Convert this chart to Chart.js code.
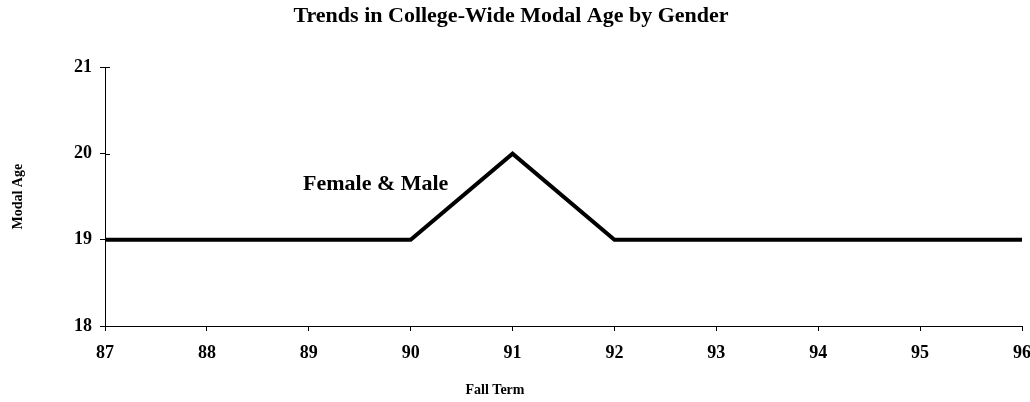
<!DOCTYPE html>
<html>
<head>
<meta charset="utf-8">
<script src="https://cdn.jsdelivr.net/npm/chart.js@4.4.1/dist/chart.umd.min.js"></script>
<style>
  html, body { margin: 0; padding: 0; background: #fff; }
  #wrap { position: relative; width: 1030px; height: 402px; }
</style>
</head>
<body>
<div id="wrap"><canvas id="chart"></canvas></div>
<script>
// fall terms on the x axis and the modal age for each
const terms = ["87", "88", "89", "90", "91", "92", "93", "94", "95", "96"];
const modalAge = [19, 19, 19, 19, 20, 19, 19, 19, 19, 19];
const ageTicks = [18, 19, 20, 21];

const serif = "'Liberation Serif', 'Times New Roman', serif";

// series label + crossing ticks on y axis + x title
const extras = {
  id: "extras",
  afterDraw(chart) {
    const ctx = chart.ctx;
    const y = chart.scales.y;
    const left = chart.chartArea.left;
    ctx.save();
    ctx.strokeStyle = "#000";
    ctx.lineWidth = 1;
    ageTicks.forEach(v => {
      const py = Math.round(y.getPixelForValue(v)) + 0.5;
      ctx.beginPath();
      ctx.moveTo(left, py);
      ctx.lineTo(left + 5, py);
      ctx.stroke();
    });
    ctx.fillStyle = "#000";
    ctx.font = "bold 22px " + serif;
    ctx.textAlign = "left";
    ctx.textBaseline = "middle";
    ctx.fillText("Female & Male", 303, 184);
    ctx.font = "bold 14px " + serif;
    ctx.textAlign = "center";
    ctx.fillText("Fall Term", 495, 390);
    ctx.restore();
  }
};

new Chart(document.getElementById("chart"), {
  type: "line",
  data: {
    labels: terms,
    datasets: [
      {
        label: "Female & Male",
        data: modalAge,
        borderColor: "#000",
        borderWidth: 4,
        pointRadius: 0,
        tension: 0,
        fill: false,
      },
    ],
  },
  options: {
    responsive: true,
    maintainAspectRatio: false,
    animation: false,
    layout: { padding: { left: 0, right: 8, top: 0, bottom: 0 } },
    plugins: {
      legend: { display: false },
      tooltip: { enabled: false },
      title: {
        display: true,
        text: "Trends in College-Wide Modal Age by Gender",
        color: "#000",
        font: { family: serif, size: 22, weight: "bold" },
        padding: { top: 3, bottom: 38 },
      },
    },
    scales: {
      x: {
        type: "category",
        offset: false,
        afterFit: s => {
          s.height = 76;
          s.paddingLeft = 0;
          s.paddingRight = 0;
        },
        border: { display: true, color: "#000", width: 1 },
        grid: { drawOnChartArea: false, tickLength: 5, color: "#000" },
        ticks: {
          color: "#000",
          padding: 12,
          maxRotation: 0,
          autoSkip: false,
          font: { family: serif, size: 18, weight: "bold" },
        },
      },
      y: {
        min: 18,
        max: 21,
        afterFit: s => { s.width = 105; },
        border: { display: true, color: "#000", width: 1 },
        grid: { drawOnChartArea: false, tickLength: 5, color: "#000" },
        ticks: {
          stepSize: 1,
          color: "#000",
          padding: 8,
          font: { family: serif, size: 18, weight: "bold" },
        },
        title: {
          display: true,
          text: "Modal Age",
          color: "#000",
          font: { family: serif, size: 14, weight: "bold" },
          padding: { top: 10, bottom: 0 },
        },
      },
    },
  },
  plugins: [extras],
});
</script>
</body>
</html>
